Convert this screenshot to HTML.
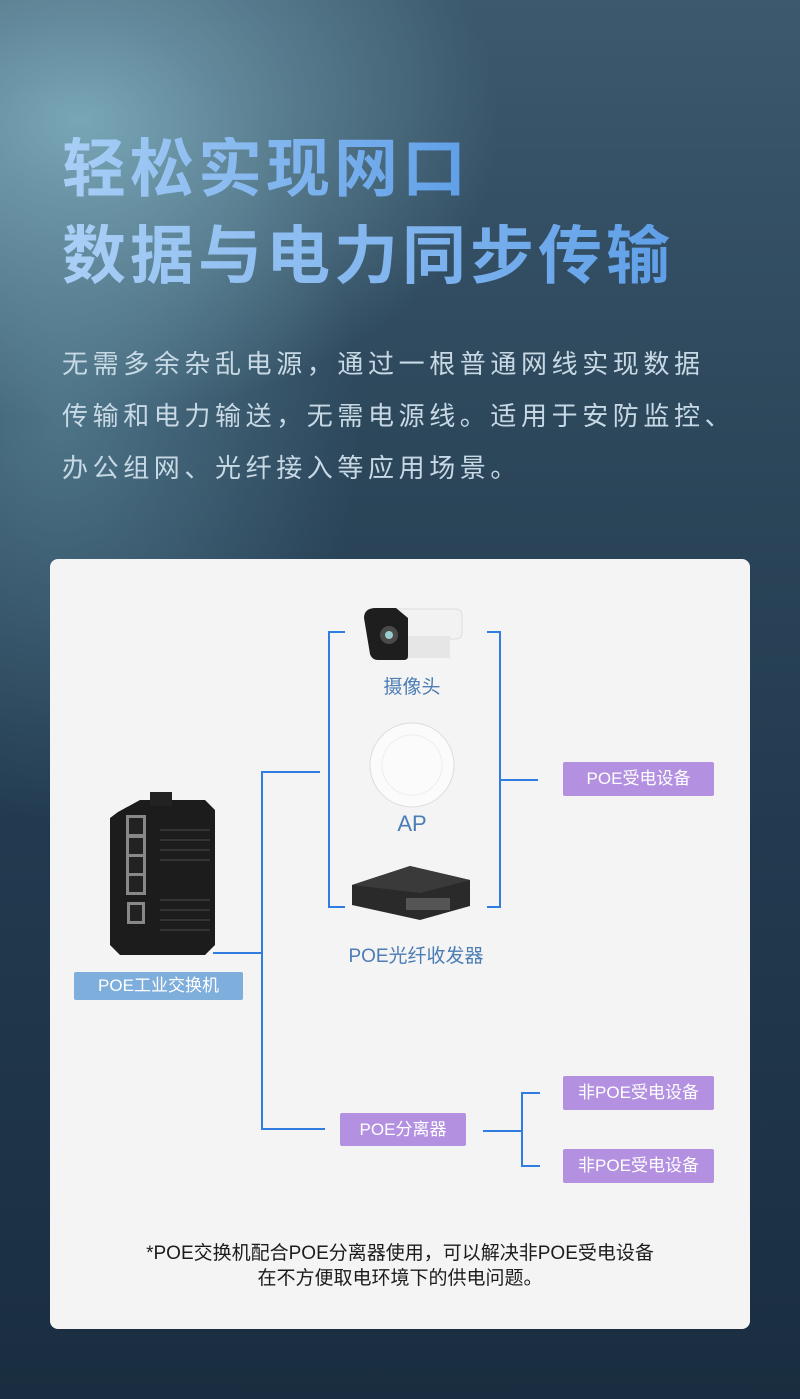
<!DOCTYPE html>
<html><head><meta charset="utf-8"><style>
html,body{margin:0;padding:0}
body{width:800px;height:1399px;position:relative;overflow:hidden;font-family:"Liberation Sans","Noto Sans CJK SC",sans-serif;
background:radial-gradient(ellipse 420px 300px at 80px 120px,rgba(140,190,205,0.75),rgba(140,190,205,0) 100%),
radial-gradient(ellipse 300px 400px at 60px 420px,rgba(110,160,180,0.5),rgba(110,160,180,0) 100%),
linear-gradient(180deg,#3c596d 0%,#2d475b 30%,#223a4f 60%,#1a2d40 100%);}
.t{position:absolute;left:62px;font-weight:bold;font-size:64px;letter-spacing:4px;line-height:1;
background:linear-gradient(90deg,#a9cff6,#5f9fe8);-webkit-background-clip:text;background-clip:text;color:transparent;}
.p{position:absolute;left:62px;top:338px;font-size:26px;letter-spacing:4.6px;line-height:52px;color:#c8d9e6;white-space:nowrap}
.card{position:absolute;left:50px;top:559px;width:700px;height:770px;background:#f4f4f4;border-radius:8px}
.box{position:absolute;background:#b391e0;color:#fff;font-size:17px;text-align:center;border-radius:2px}
.lbl{position:absolute;color:#4c7db4;text-align:center;transform:translateX(-50%);white-space:nowrap}
.foot{position:absolute;left:0;width:800px;text-align:center;font-size:19px;color:#1c1c1c;line-height:25px;top:1241px}
</style></head><body>
<div class="t" style="top:137px">轻松实现网口</div>
<div class="t" style="top:224px">数据与电力同步传输</div>
<div class="p">无需多余杂乱电源，通过一根普通网线实现数据<br>传输和电力输送，无需电源线。适用于安防监控、<br>办公组网、光纤接入等应用场景。</div>
<div class="card"></div>
<svg style="position:absolute;left:0;top:0" width="800" height="1399">
<g stroke="#2f7de1" stroke-width="2" fill="none">
<path d="M345 632H329V907H345"/>
<path d="M487 632H500V907H487"/>
<path d="M500 780H538"/>
<path d="M320 772H262V1129H325"/>
<path d="M213 953H262"/>
<path d="M483 1131H522"/>
<path d="M540 1093H522V1166H540"/>
</g>
<rect x="372" y="609" width="90" height="30" rx="6" fill="#f2f2f2" stroke="#ddd"/>
<rect x="400" y="636" width="50" height="22" fill="#e6e6e6"/>
<path d="M364 618q0-10 12-10h20l12 10v38q0 4-4 4h-26q-6 0-8-6z" fill="#1e1e1e"/>
<circle cx="389" cy="635" r="9" fill="#4a4a4a"/><circle cx="389" cy="635" r="4" fill="#9cc"/>
<circle cx="412" cy="765" r="42" fill="#fbfbfb" stroke="#ddd"/>
<circle cx="412" cy="765" r="30" fill="none" stroke="#eee"/>
<path d="M352 885L410 866L470 880V906L420 920L352 905Z" fill="#2a2a2a"/>
<path d="M352 885L410 866L470 880L420 893Z" fill="#3a3a3a"/>
<rect x="406" y="898" width="44" height="12" fill="#555"/>
<path d="M118 812L140 800H205L215 810V945L205 955H120L110 945V818Z" fill="#1c1c1c"/>
<rect x="150" y="792" width="22" height="14" fill="#222"/>
<rect x="126" y="815" width="20" height="80" fill="#888"/>
<rect x="129" y="818" width="14" height="16" fill="#222"/><rect x="129" y="838" width="14" height="16" fill="#222"/>
<rect x="129" y="857" width="14" height="16" fill="#222"/><rect x="129" y="876" width="14" height="16" fill="#222"/>
<rect x="127" y="902" width="18" height="22" fill="#888"/><rect x="130" y="905" width="12" height="16" fill="#222"/>
<g stroke="#333" stroke-width="2"><path d="M160 830H210M160 840H210M160 850H210M160 860H210M160 900H210M160 910H210M160 920H210M160 930H210"/></g>
</svg>
<div class="lbl" style="left:412px;top:672px;font-size:19px">摄像头</div>
<div class="lbl" style="left:412px;top:811px;font-size:22px">AP</div>
<div class="lbl" style="left:416px;top:941px;font-size:19px">POE光纤收发器</div>
<div class="box" style="left:74px;top:972px;width:169px;height:28px;line-height:28px;background:#7eaedc">POE工业交换机</div>
<div class="box" style="left:563px;top:762px;width:151px;height:34px;line-height:34px">POE受电设备</div>
<div class="box" style="left:340px;top:1113px;width:126px;height:33px;line-height:33px">POE分离器</div>
<div class="box" style="left:563px;top:1076px;width:151px;height:34px;line-height:34px">非POE受电设备</div>
<div class="box" style="left:563px;top:1149px;width:151px;height:34px;line-height:34px">非POE受电设备</div>
<div class="foot">*POE交换机配合POE分离器使用，可以解决非POE受电设备<br>在不方便取电环境下的供电问题。</div>
</body></html>
